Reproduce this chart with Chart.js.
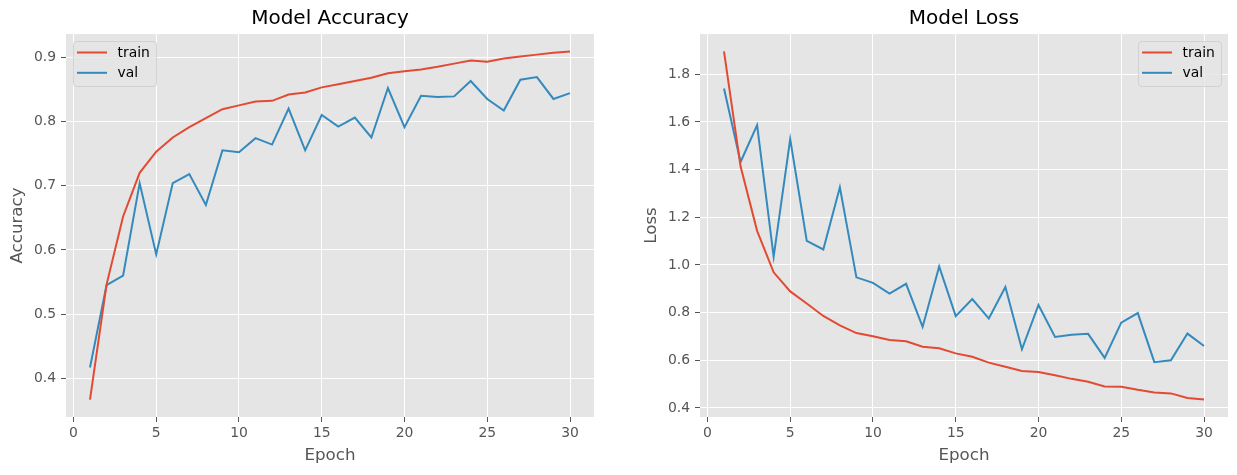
<!DOCTYPE html>
<html><head><meta charset="utf-8">
<script src="https://cdn.jsdelivr.net/npm/chart.js@4"></script>
<style>
html,body{margin:0;padding:0;background:#fff;}
#wrap{position:relative;width:1237px;height:475px;overflow:hidden;}
canvas{position:absolute;top:0;}
</style></head><body>
<div id="wrap">
<canvas id="acc" width="618" height="475" style="left:0;width:618px;height:475px"></canvas>
<canvas id="loss" width="603" height="475" style="left:634px;width:603px;height:475px"></canvas>
</div>
<script>
const epochs = [1,2,3,4,5,6,7,8,9,10,11,12,13,14,15,16,17,18,19,20,21,22,23,24,25,26,27,28,29,30];
const accTrain = [0.367,0.546,0.652,0.720,0.753,0.775,0.791,0.805,0.819,0.825,0.831,0.832,0.842,0.845,0.853,0.858,0.863,0.868,0.875,0.878,0.881,0.885,0.890,0.895,0.893,0.898,0.901,0.904,0.907,0.909];
const accVal = [0.417,0.545,0.560,0.704,0.593,0.704,0.718,0.670,0.755,0.752,0.774,0.764,0.820,0.755,0.810,0.792,0.806,0.775,0.852,0.791,0.840,0.838,0.839,0.863,0.835,0.817,0.865,0.869,0.835,0.844];
const lossTrain = [1.896,1.414,1.143,0.969,0.889,0.838,0.786,0.746,0.714,0.701,0.685,0.680,0.657,0.650,0.629,0.615,0.590,0.573,0.555,0.551,0.537,0.522,0.510,0.490,0.489,0.476,0.465,0.461,0.442,0.435];
const lossVal = [1.740,1.432,1.587,1.035,1.528,1.101,1.065,1.326,0.948,0.925,0.880,0.921,0.740,0.994,0.785,0.857,0.775,0.907,0.646,0.832,0.698,0.707,0.711,0.610,0.758,0.798,0.592,0.600,0.712,0.660];
const epochTicks = [0,5,10,15,20,25,30];
const accTicks = [0.4,0.5,0.6,0.7,0.8,0.9];
const lossTicks = [0.4,0.6,0.8,1.0,1.2,1.4,1.6,1.8];
const seriesNames = ['train','val'];
const seriesColors = ['#E24A33','#348ABD'];

Chart.defaults.font.family = 'DejaVu Sans';

function margins(arrs){
  const all = [].concat(...arrs);
  const lo = Math.min(...all), hi = Math.max(...all), m = (hi-lo)*0.05;
  return [lo-m, hi+m];
}

const bgPlugin = {
  id:'bgArea',
  beforeDraw(chart){
    const {ctx, chartArea:ca} = chart;
    ctx.save(); ctx.fillStyle = '#E5E5E5';
    ctx.fillRect(ca.left, ca.top, ca.right-ca.left, ca.bottom-ca.top);
    ctx.restore();
  }
};

const boxLegend = {
  id:'boxLegend',
  afterDatasetsDraw(chart, args, opts){
    const {ctx, chartArea:ca} = chart;
    const w = 83, h = 45;
    const x = opts.side === 'right' ? ca.right - 7 - w : ca.left + 7;
    const y = ca.top + 7;
    ctx.save();
    ctx.beginPath();
    if (ctx.roundRect) ctx.roundRect(x+0.5, y+0.5, w, h, 3); else ctx.rect(x+0.5, y+0.5, w, h);
    ctx.fillStyle = 'rgba(229,229,229,0.8)'; ctx.fill();
    ctx.strokeStyle = 'rgba(204,204,204,0.8)'; ctx.lineWidth = 1; ctx.stroke();
    chart.data.datasets.forEach((ds,i)=>{
      const ry = y + 11.5 + i*20.3;
      ctx.beginPath(); ctx.strokeStyle = ds.borderColor; ctx.lineWidth = 2;
      ctx.moveTo(x+4, ry); ctx.lineTo(x+34, ry); ctx.stroke();
      ctx.fillStyle = '#000'; ctx.font = '13.9px "DejaVu Sans"'; ctx.textBaseline = 'middle'; ctx.textAlign = 'left';
      ctx.fillText(ds.label, x+44.5, ry+1);
    });
    ctx.restore();
  }
};

function makeChart(id, title, yTitle, series, yTicks, side, padRight){
  const [ymin, ymax] = margins(series);
  const [xmin, xmax] = margins([epochs]);
  const tickFont = {family:'DejaVu Sans', size:13.9};
  const labelFont = {family:'DejaVu Sans', size:16.7};
  return new Chart(document.getElementById(id), {
    type:'line',
    data:{
      datasets: series.map((s,i)=>({
        label: seriesNames[i],
        data: epochs.map((e,j)=>({x:e, y:s[j]})),
        borderColor: seriesColors[i], backgroundColor: seriesColors[i],
        borderWidth: 2, pointRadius: 0, tension: 0, fill: false
      }))
    },
    options:{
      responsive:false, animation:false, devicePixelRatio:1,
      layout:{padding:{left:0, right:padRight, top:0, bottom:0}},
      plugins:{
        legend:{display:false}, tooltip:{enabled:false},
        title:{display:true, text:title, color:'#000', fullSize:false,
          font:{family:'DejaVu Sans', size:20, weight:'normal', lineHeight:1.2},
          padding:{top:7, bottom:3}},
        boxLegend:{side:side}
      },
      scales:{
        x:{
          type:'linear', min:xmin, max:xmax,
          afterBuildTicks: s => { s.ticks = epochTicks.map(v=>({value:v})); },
          afterFit: s => { s.height = 58; },
          grid:{color:'#ffffff', lineWidth:1, drawTicks:true, tickLength:5, tickColor:'#555555', tickWidth:1},
          border:{display:false},
          ticks:{color:'#555555', font:tickFont, padding:3, maxRotation:0, autoSkip:false, callback:v=>String(v)},
          title:{display:true, text:'Epoch', color:'#555555', font:labelFont, padding:{top:0, bottom:9}}
        },
        y:{
          type:'linear', min:ymin, max:ymax,
          afterBuildTicks: s => { s.ticks = yTicks.map(v=>({value:v})); },
          afterFit: s => { s.width = 66; },
          grid:{color:'#ffffff', lineWidth:1, drawTicks:true, tickLength:5, tickColor:'#555555', tickWidth:1},
          border:{display:false},
          ticks:{color:'#555555', font:tickFont, padding:5, autoSkip:false, callback:v=>Number(v).toFixed(1)},
          title:{display:true, text:yTitle, color:'#555555', font:labelFont, padding:{top:8, bottom:0}}
        }
      }
    },
    plugins:[bgPlugin, boxLegend]
  });
}

makeChart('acc', 'Model Accuracy', 'Accuracy', [accTrain, accVal], accTicks, 'left', 24);
makeChart('loss', 'Model Loss', 'Loss', [lossTrain, lossVal], lossTicks, 'right', 9);
</script>
</body></html>
